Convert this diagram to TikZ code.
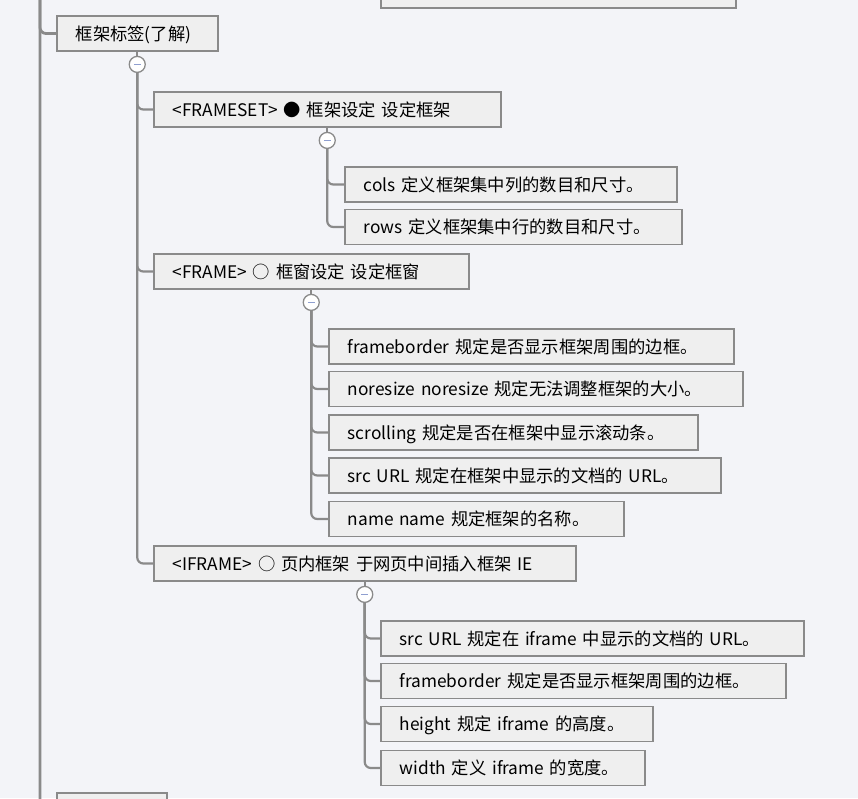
\documentclass[tikz,border=0pt]{standalone}
\usepackage{fontspec}
\setmainfont{Noto Sans CJK SC}
\usetikzlibrary{positioning}
\definecolor{bgc}{HTML}{F3F4F8}
\definecolor{boxc}{HTML}{EFEFEF}
\definecolor{edgec}{HTML}{8A8A8A}
\definecolor{minc}{HTML}{8F9FD0}
\tikzset{
  box/.style={draw=edgec,line width=1.5pt,fill=boxc,anchor=west,
    inner xsep=19pt,inner ysep=0pt,minimum height=35pt,
    text height=14.5pt,text depth=1.5pt,align=left,
    font=\fontsize{17.3}{20}\selectfont},
  tog/.style={circle,draw=edgec,line width=1.3pt,fill=white,
    minimum size=16pt,inner sep=0pt,
    path picture={\draw[minc,line width=1.5pt]
      ([xshift=-3.5pt]path picture bounding box.center)--
      ([xshift=3.5pt]path picture bounding box.center);}},
  link/.style={edgec,line width=2.2pt,rounded corners=6pt}
}
\begin{document}
\begin{tikzpicture}[x=1pt,y=-1pt]
  \fill[bgc] (0,0) rectangle (858,798);
  \useasboundingbox (0,0) rectangle (858,798);
  \clip (0,0) rectangle (858,798);
  % parts of the neighbour boxes
  \node[box,text width=317pt] (prev) at (380,-9.5) {};
  \node[box,text width=72pt] (next) at (56,810.5) {};
  \coordinate (top) at (40,-20);
  \coordinate (bot) at (40,830);
  \draw[link,line width=2.8pt] (top) -- (bot);
  \draw[link,line width=2.8pt] (top) |- (next);
  % frame tags
  \node[box,text width=123pt] (lbl) at (56,33.5) {框架标签(了解)};
  \draw[link,line width=2.8pt] (top) |- (lbl);
  \node[tog,below=4pt of lbl] (t1) {};
  \draw[link] (lbl) -- (t1);
  \node[box,text width=309pt] (fs) at (153,109.5) {<FRAMESET> ● 框架设定 设定框架};
  \node[box,text width=277pt] (fr) at (153,271.5) {<FRAME> ○ 框窗设定 设定框窗};
  \node[box,text width=384pt] (ifr) at (153,563.5) {<IFRAME> ○ 页内框架 于网页中间插入框架 IE};
  \foreach \n in {fs,fr,ifr}
    \draw[link] (t1) |- (\n);
  % FRAMESET
  \node[tog,below=4pt of fs] (t2) {};
  \draw[link] (fs) -- (t2);
  \node[box,text width=294pt] (cols) at (344,184.5) {cols 定义框架集中列的数目和尺寸。};
  \node[box,text width=299pt] (rows) at (344,227) {rows 定义框架集中行的数目和尺寸。};
  \foreach \n in {cols,rows}
    \draw[link] (t2) |- (\n);
  % FRAME
  \node[tog,below=4pt of fr] (t3) {};
  \draw[link] (fr) -- (t3);
  \node[box,text width=367pt] (fb1) at (328,346.5) {frameborder 规定是否显示框架周围的边框。};
  \node[box,text width=376pt] (nr) at (328,389) {noresize noresize 规定无法调整框架的大小。};
  \node[box,text width=331pt] (sc) at (328,432.5) {scrolling 规定是否在框架中显示滚动条。};
  \node[box,text width=354pt] (src1) at (328,475.5) {src URL 规定在框架中显示的文档的 URL。};
  \node[box,text width=257pt] (nm) at (328,519) {name name 规定框架的名称。};
  \foreach \n in {fb1,nr,sc,src1,nm}
    \draw[link] (t3) |- (\n);
  % IFRAME
  \node[tog,below=4pt of ifr] (t4) {};
  \draw[link] (ifr) -- (t4);
  \node[box,text width=385pt] (src2) at (380,638.5) {src URL 规定在 iframe 中显示的文档的 URL。};
  \node[box,text width=367pt] (fb2) at (380,681) {frameborder 规定是否显示框架周围的边框。};
  \node[box,text width=234pt] (ht) at (380,724) {height 规定 iframe 的高度。};
  \node[box,text width=226pt] (wd) at (380,768) {width 定义 iframe 的宽度。};
  \foreach \n in {src2,fb2,ht,wd}
    \draw[link] (t4) |- (\n);
\end{tikzpicture}
\end{document}
